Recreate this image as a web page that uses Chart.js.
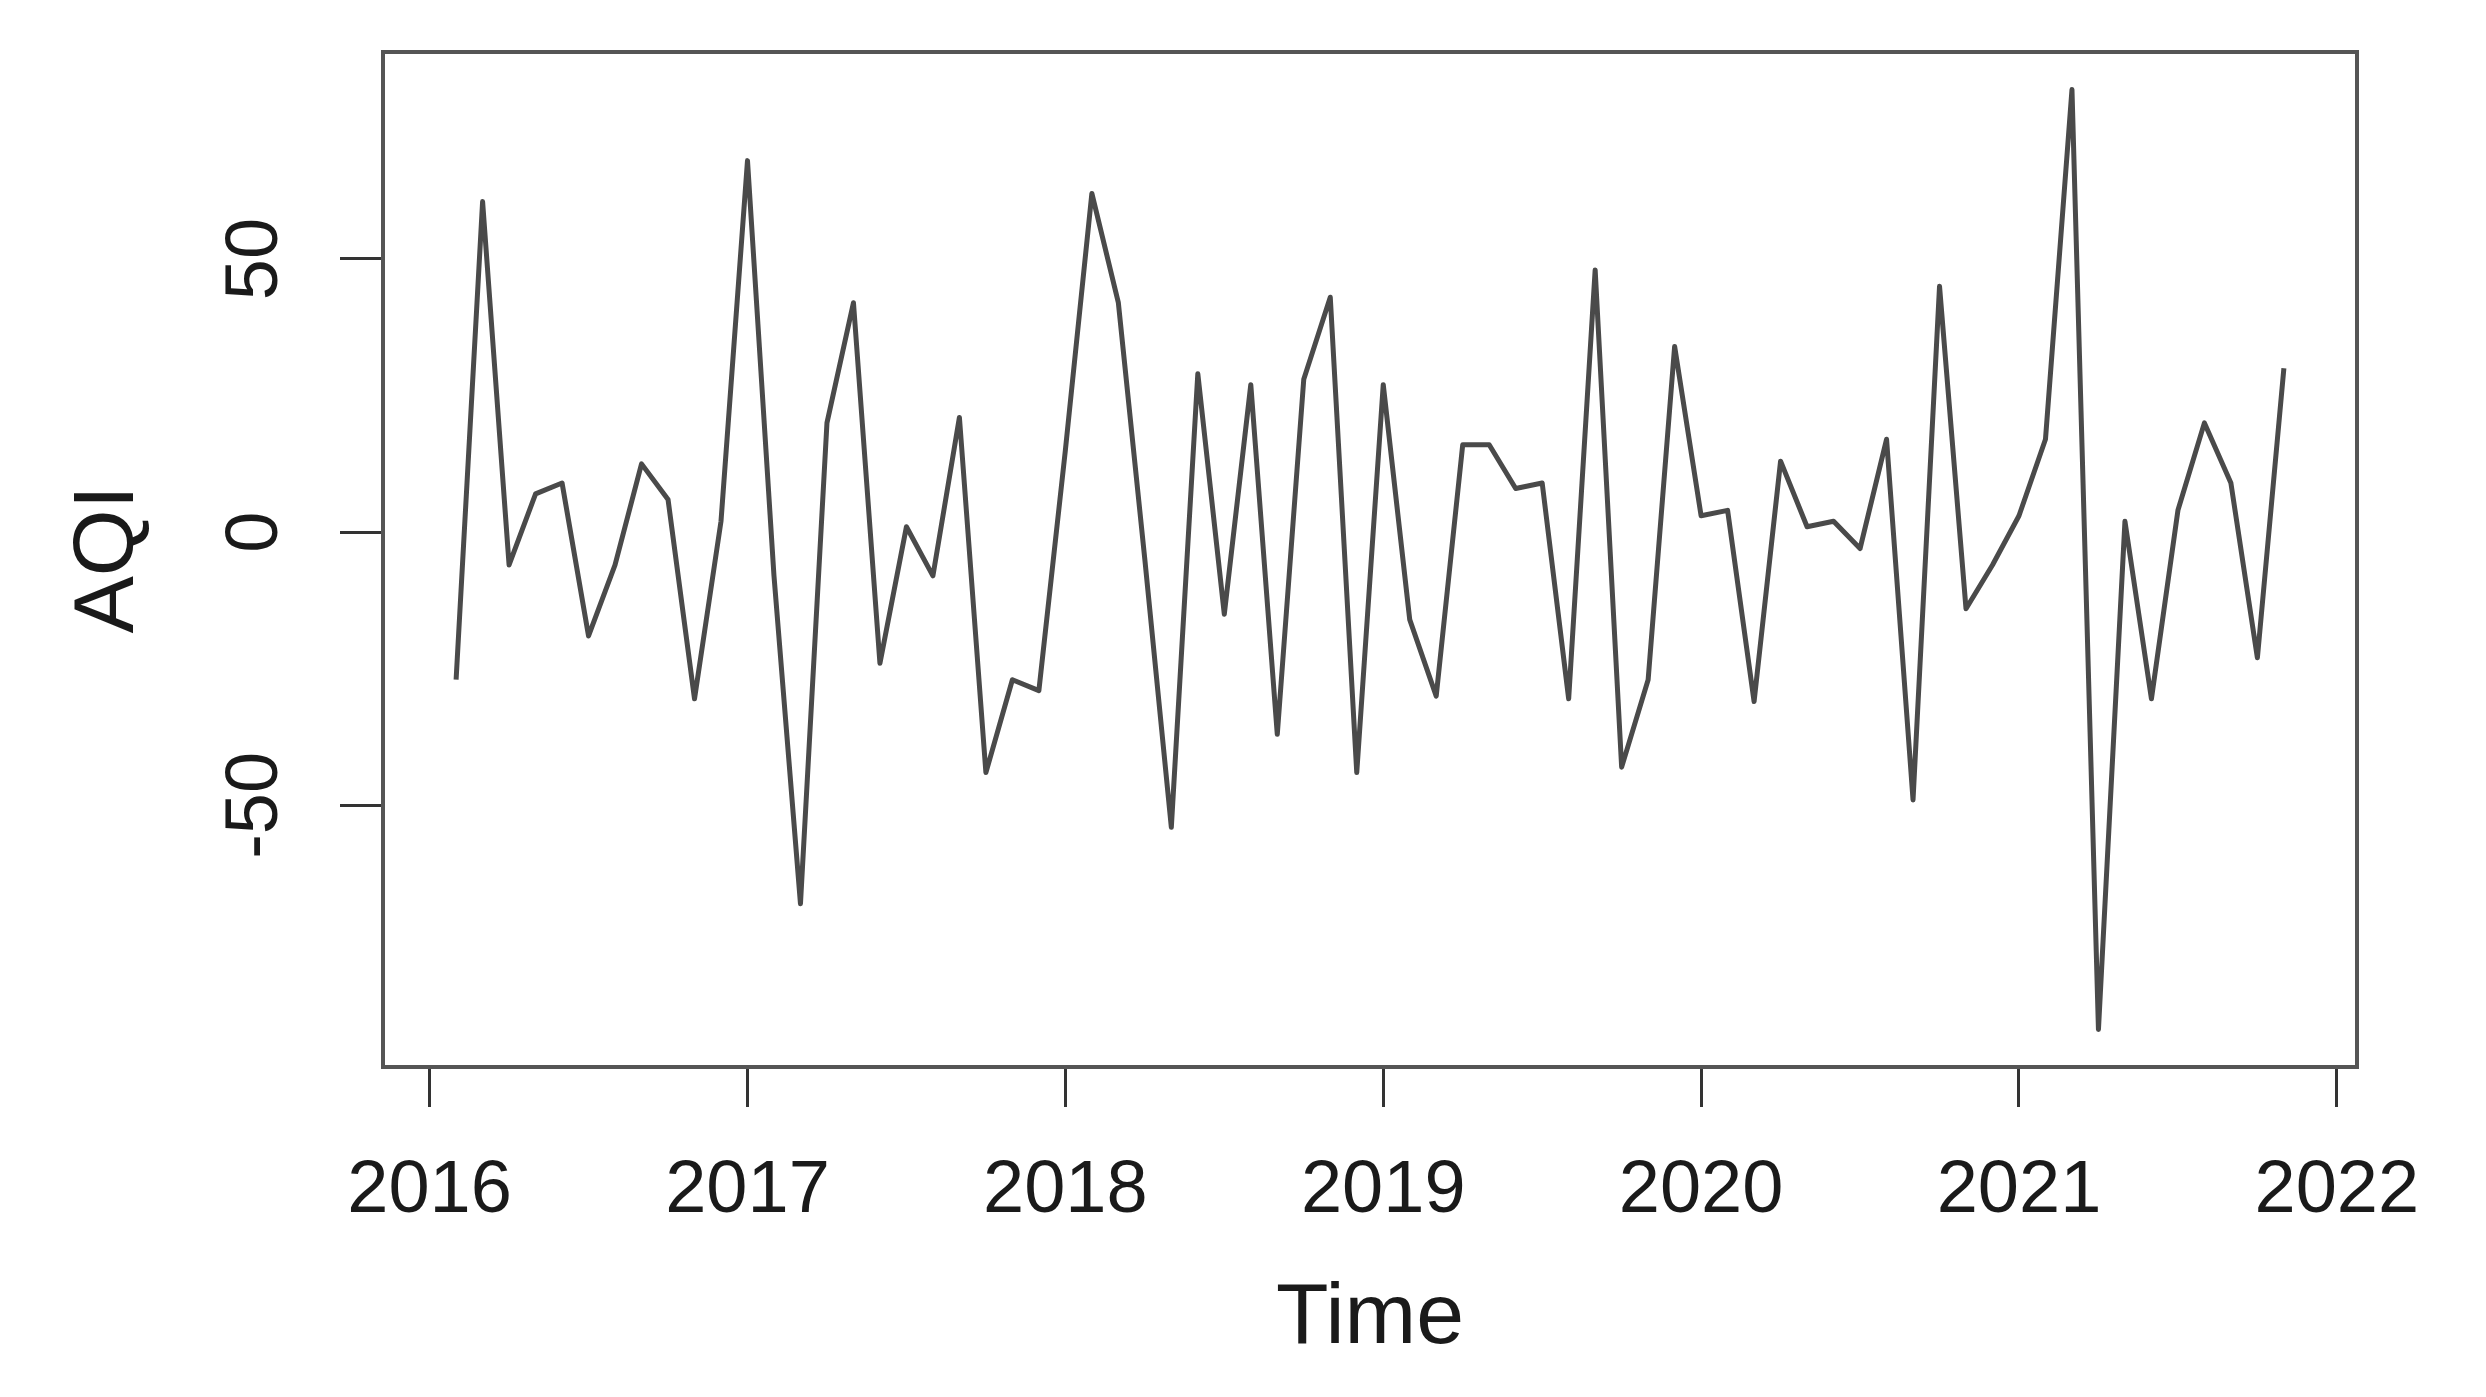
<!DOCTYPE html>
<html>
<head>
<meta charset="utf-8">
<script src="https://cdn.jsdelivr.net/npm/chart.js@4"></script>
<style>
  html, body { margin: 0; padding: 0; background: #fff; }
  canvas { display: block; }
</style>
</head>
<body>
<canvas id="myChart" width="2486" height="1397"></canvas>
<script>
// monthly AQI (differenced) values
const aqi2016 = [-27, 60.5, -6, 7, 9, -19, -6, 12.5, 6, -30.5, 2];   // Feb - Dec
const aqi2017 = [68, -8, -68, 20, 42, -24, 1, -8, 21, -44, -27, -29];
const aqi2018 = [15, 62, 42, -5, -54, 29, -15, 27, -37, 28, 43, -44];
const aqi2019 = [27, -16, -30, 16, 16, 8, 9, -30.5, 48, -43, -27, 34];
const aqi2020 = [3, 4, -31, 13, 1, 2, -3, 17, -49, 45, -14, -6];
const aqi2021 = [3, 17, 81, -91, 2, -30.5, 4, 20, 9, -23, 30];        // Jan - Nov

const years = [2016, 2017, 2018, 2019, 2020, 2021];
const firstMonth = [2, 1, 1, 1, 1, 1];
const yearTicks = [2016, 2017, 2018, 2019, 2020, 2021, 2022];
const aqiTicks = [-50, 0, 50];

const perYear = [aqi2016, aqi2017, aqi2018, aqi2019, aqi2020, aqi2021];
let points = [];
perYear.forEach((vals, k) => {
    vals.forEach((v, j) => {
        points.push({ x: years[k] + (firstMonth[k] - 1 + j) / 12, y: v });
    });
});

// R style axis limits: data range plus 4% on each side
function rRange(arr) {
    const lo = Math.min(...arr), hi = Math.max(...arr);
    const d = (hi - lo) * 0.04;
    return [lo - d, hi + d];
}
const xLim = rRange(points.map(p => p.x));
const yLim = rRange(points.map(p => p.y));

const font = 'Liberation Sans';
const textColor = '#1a1a1a';

const boxPlugin = {
    id: 'box',
    afterDraw(chart) {
        const { ctx, chartArea: a } = chart;
        ctx.save();
        ctx.strokeStyle = '#555';
        ctx.lineWidth = 4;
        ctx.strokeRect(a.left, a.top, a.right - a.left, a.bottom - a.top);
        ctx.restore();
    }
};

const ctx = document.getElementById('myChart').getContext('2d');
const myChart = new Chart(ctx, {
    type: 'line',
    data: {
        datasets: [{
            label: 'AQI',
            data: points,
            borderColor: '#4a4a4a',
            borderWidth: 5,
            borderJoinStyle: 'round',
            pointRadius: 0,
            tension: 0,
            fill: false
        }]
    },
    options: {
        responsive: false,
        animation: false,
        devicePixelRatio: 1,
        layout: { padding: { top: 52, right: 129, bottom: 0, left: 0 } },
        plugins: { legend: { display: false }, tooltip: { enabled: false } },
        scales: {
            x: {
                type: 'linear',
                min: xLim[0],
                max: xLim[1],
                afterBuildTicks: s => { s.ticks = yearTicks.map(v => ({ value: v })); },
                afterFit: s => {
                    s.height = 330;
                    s.paddingLeft = 0;
                    s.paddingRight = 0;
                },
                border: { display: false },
                grid: { drawOnChartArea: false, tickLength: 40, color: '#333', lineWidth: 3 },
                ticks: {
                    font: { family: font, size: 74 },
                    color: textColor,
                    padding: 40,
                    autoSkip: false,
                    maxRotation: 0,
                    callback: v => String(v)
                },
                title: {
                    display: true,
                    text: 'Time',
                    font: { family: font, size: 86 },
                    color: textColor,
                    padding: { top: 0, bottom: 26 }
                }
            },
            y: {
                min: yLim[0],
                max: yLim[1],
                afterBuildTicks: s => { s.ticks = aqiTicks.map(v => ({ value: v })); },
                afterFit: s => {
                    s.width = 383;
                    s.paddingTop = 0;
                    s.paddingBottom = 0;
                },
                border: { display: false },
                grid: { drawOnChartArea: false, tickLength: 43, color: '#333', lineWidth: 3 },
                ticks: {
                    font: { family: font, size: 74 },
                    color: textColor,
                    padding: 30,
                    minRotation: 90,
                    maxRotation: 90,
                    crossAlign: 'center',
                    callback: v => String(v)
                },
                title: {
                    display: true,
                    text: 'AQI',
                    font: { family: font, size: 86 },
                    color: textColor,
                    padding: { top: 58, bottom: 0 }
                }
            }
        }
    },
    plugins: [boxPlugin]
});
</script>
</body>
</html>
